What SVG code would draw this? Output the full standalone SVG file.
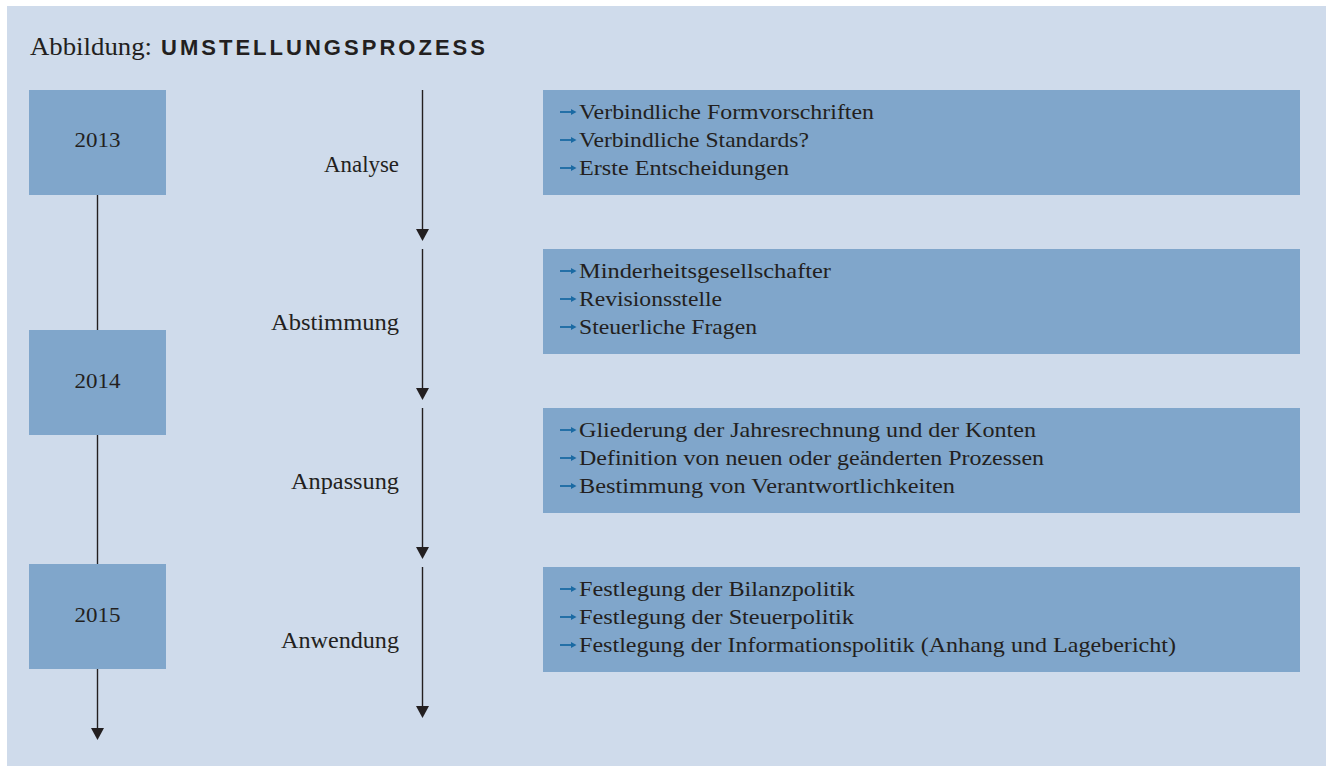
<svg xmlns="http://www.w3.org/2000/svg" width="1326" height="767" viewBox="0 0 1326 767">
<defs>
<style>
.bg{fill:#cfdbeb}
.box{fill:#80a6cb}
.ser{font-family:"Liberation Serif","Times New Roman",serif;fill:#231f20}
.yr{font-size:22px;text-anchor:middle}
.lbl{font-size:23px;text-anchor:end}
.item{font-size:22px}
.title{font-size:25px}
.titleb{font-family:"Liberation Sans",Arial,sans-serif;font-weight:bold;font-size:22px;fill:#231f20}
.ln{stroke:#231f20;stroke-width:1.4;fill:none}
.head{fill:#231f20}
.bul{stroke:#1a6aa3;stroke-width:1.8;fill:none}
.bulh{fill:#1a6aa3}
</style>
<g id="bullet">
<line class="bul" x1="560" y1="0" x2="572" y2="0"/>
<polygon class="bulh" points="571,-3 576.5,0 571,3"/>
</g>
</defs>
<rect x="0" y="0" width="1326" height="767" fill="#ffffff"/>
<rect class="bg" x="7" y="6" width="1319" height="760"/>

<g id="title">
<text class="ser title" x="30" y="55" textLength="122" lengthAdjust="spacingAndGlyphs">Abbildung:</text>
<text class="titleb" x="161" y="55" textLength="324">UMSTELLUNGSPROZESS</text>
</g>

<g id="connectors">
<line class="ln" x1="97.5" y1="195" x2="97.5" y2="330"/>
<line class="ln" x1="97.5" y1="435" x2="97.5" y2="564"/>
<line class="ln" x1="97.5" y1="669" x2="97.5" y2="730"/>
<polygon class="head" points="91,728 104,728 97.5,740"/>
<line class="ln" x1="422.5" y1="90" x2="422.5" y2="231"/>
<polygon class="head" points="416,229 429,229 422.5,241"/>
<line class="ln" x1="422.5" y1="249" x2="422.5" y2="390"/>
<polygon class="head" points="416,388 429,388 422.5,400"/>
<line class="ln" x1="422.5" y1="408" x2="422.5" y2="549"/>
<polygon class="head" points="416,547 429,547 422.5,559"/>
<line class="ln" x1="422.5" y1="567" x2="422.5" y2="708"/>
<polygon class="head" points="416,706 429,706 422.5,718"/>
</g>

<g id="year-2013">
<rect class="box" x="29" y="90" width="137" height="105"/>
<text class="ser yr" x="97.5" y="147" textLength="46" lengthAdjust="spacingAndGlyphs">2013</text>
</g>
<g id="year-2014">
<rect class="box" x="29" y="330" width="137" height="105"/>
<text class="ser yr" x="97.5" y="388" textLength="46" lengthAdjust="spacingAndGlyphs">2014</text>
</g>
<g id="year-2015">
<rect class="box" x="29" y="564" width="137" height="105"/>
<text class="ser yr" x="97.5" y="622" textLength="46" lengthAdjust="spacingAndGlyphs">2015</text>
</g>

<g id="phase-analyse">
<text class="ser lbl" x="399" y="172" textLength="75" lengthAdjust="spacingAndGlyphs">Analyse</text>
</g>
<g id="phase-abstimmung">
<text class="ser lbl" x="399" y="330" textLength="128" lengthAdjust="spacingAndGlyphs">Abstimmung</text>
</g>
<g id="phase-anpassung">
<text class="ser lbl" x="399" y="489" textLength="108" lengthAdjust="spacingAndGlyphs">Anpassung</text>
</g>
<g id="phase-anwendung">
<text class="ser lbl" x="399" y="648" textLength="118" lengthAdjust="spacingAndGlyphs">Anwendung</text>
</g>

<g id="box-analyse">
<rect class="box" x="543" y="90" width="757" height="105"/>
<use href="#bullet" y="112"/>
<use href="#bullet" y="140"/>
<use href="#bullet" y="168"/>
<text class="ser item" x="579" y="119" textLength="295" lengthAdjust="spacingAndGlyphs">Verbindliche Formvorschriften</text>
<text class="ser item" x="579" y="147" textLength="230" lengthAdjust="spacingAndGlyphs">Verbindliche Standards?</text>
<text class="ser item" x="579" y="175" textLength="210" lengthAdjust="spacingAndGlyphs">Erste Entscheidungen</text>
</g>

<g id="box-abstimmung">
<rect class="box" x="543" y="249" width="757" height="105"/>
<use href="#bullet" y="271"/>
<use href="#bullet" y="299"/>
<use href="#bullet" y="327"/>
<text class="ser item" x="579" y="278" textLength="252" lengthAdjust="spacingAndGlyphs">Minderheitsgesellschafter</text>
<text class="ser item" x="579" y="306" textLength="143" lengthAdjust="spacingAndGlyphs">Revisionsstelle</text>
<text class="ser item" x="579" y="334" textLength="178" lengthAdjust="spacingAndGlyphs">Steuerliche Fragen</text>
</g>

<g id="box-anpassung">
<rect class="box" x="543" y="408" width="757" height="105"/>
<use href="#bullet" y="430"/>
<use href="#bullet" y="458"/>
<use href="#bullet" y="486"/>
<text class="ser item" x="579" y="437" textLength="457" lengthAdjust="spacingAndGlyphs">Gliederung der Jahresrechnung und der Konten</text>
<text class="ser item" x="579" y="465" textLength="465" lengthAdjust="spacingAndGlyphs">Definition von neuen oder geänderten Prozessen</text>
<text class="ser item" x="579" y="493" textLength="376" lengthAdjust="spacingAndGlyphs">Bestimmung von Verantwortlichkeiten</text>
</g>

<g id="box-anwendung">
<rect class="box" x="543" y="567" width="757" height="105"/>
<use href="#bullet" y="589"/>
<use href="#bullet" y="617"/>
<use href="#bullet" y="645"/>
<text class="ser item" x="579" y="596" textLength="276" lengthAdjust="spacingAndGlyphs">Festlegung der Bilanzpolitik</text>
<text class="ser item" x="579" y="624" textLength="275" lengthAdjust="spacingAndGlyphs">Festlegung der Steuerpolitik</text>
<text class="ser item" x="579" y="652" textLength="597" lengthAdjust="spacingAndGlyphs">Festlegung der Informationspolitik (Anhang und Lagebericht)</text>
</g>
</svg>
